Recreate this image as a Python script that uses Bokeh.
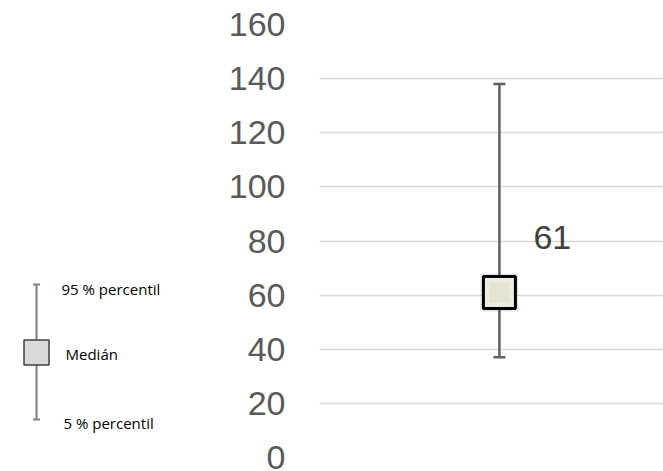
from bokeh.plotting import figure
from bokeh.layouts import row
from bokeh.models import Range1d, FixedTicker, ColumnDataSource
from bokeh.core.properties import value
from bokeh.embed import file_html
from bokeh.resources import INLINE

# ---- data ----
categories = [0]
median = [61]
p95 = [138]
p5 = [37]
median_labels = ["61"]
y_ticks = [0, 20, 40, 60, 80, 100, 120, 140, 160]

legend_texts = ["95 % percentil", "Medián", "5 % percentil"]

# ---- main chart ----
src = ColumnDataSource(dict(x=categories, med=median, hi=p95, lo=p5, lab=median_labels))

p = figure(width=455, height=470, output_backend="svg", toolbar_location=None,
           x_range=Range1d(-0.523, 0.477), y_range=Range1d(0, 160),
           min_border_left=111, min_border_right=0, min_border_top=24, min_border_bottom=13)
p.outline_line_color = None
p.xaxis.visible = False
p.xgrid.visible = False
p.ygrid.grid_line_color = "#d9d9d9"
p.ygrid.grid_line_width = 1.5
p.yaxis.ticker = FixedTicker(ticks=y_ticks)
p.yaxis.axis_line_color = None
p.yaxis.major_tick_line_color = None
p.yaxis.minor_tick_line_color = None
p.yaxis.major_tick_in = 0
p.yaxis.major_tick_out = 0
p.yaxis.major_label_standoff = 34
p.yaxis.major_label_text_font = "Liberation Sans"
p.yaxis.major_label_text_font_size = "34px"
p.yaxis.major_label_text_color = "#595959"
p.yaxis.major_label_text_font_style = "normal"

p.segment(x0="x", y0="lo", x1="x", y1="hi", source=src, line_color="#5f5f5f", line_width=2.5)
p.scatter(x="x", y="hi", source=src, marker="dash", size=12, line_color="#5f5f5f", line_width=2.5)
p.scatter(x="x", y="lo", source=src, marker="dash", size=12, line_color="#5f5f5f", line_width=2.5)
# soft shadow
p.scatter(x="x", y="med", source=src, marker="square", size=38, fill_color="#000000",
          fill_alpha=0.10, line_color=None)
p.scatter(x="x", y="med", source=src, marker="square", size=32, fill_color="#eeece1",
          line_color="#000000", line_width=3)
p.scatter(x="x", y="med", source=src, marker="square", size=20, fill_color="#e6e3d0",
          line_color=None)
p.text(x="x", y="med", text="lab", source=src, x_offset=34, y_offset=-55,
       text_font=value("Liberation Sans"), text_font_size="34px", text_color="#404040",
       text_baseline="middle", text_align="left")

# ---- legend panel (left); its frame is aligned with the main frame (page y 24..457) ----
lg = figure(width=208, height=470, output_backend="svg", toolbar_location=None,
            x_range=Range1d(0, 208), y_range=Range1d(457, 24),
            min_border_left=0, min_border_right=0, min_border_top=24, min_border_bottom=13)
lg.outline_line_color = None
lg.axis.visible = False
lg.grid.visible = False

lx, ltop, lbot, lmid = 36, 284, 419, 352
lg.segment(x0=[lx], y0=[ltop], x1=[lx], y1=[lbot], line_color="#7f7f7f", line_width=2)
lg.segment(x0=[lx - 3.5, lx - 3.5], y0=[ltop, lbot], x1=[lx + 3.5, lx + 3.5], y1=[ltop, lbot],
           line_color="#7f7f7f", line_width=2)
lg.rect(x=[lx], y=[lmid], width=25, height=25, fill_color="#d9d9d9", line_color="#404040",
        line_width=1.5)
lg.text(x=[61, 65, 63], y=[288, 353, 422], text=legend_texts,
        text_font=value("Open Sans"), text_font_size="15px", text_color="#000000",
        text_baseline="middle", text_align="left")

layout = row(lg, p, spacing=0)
open("out.html", "w").write(file_html(layout, INLINE))
